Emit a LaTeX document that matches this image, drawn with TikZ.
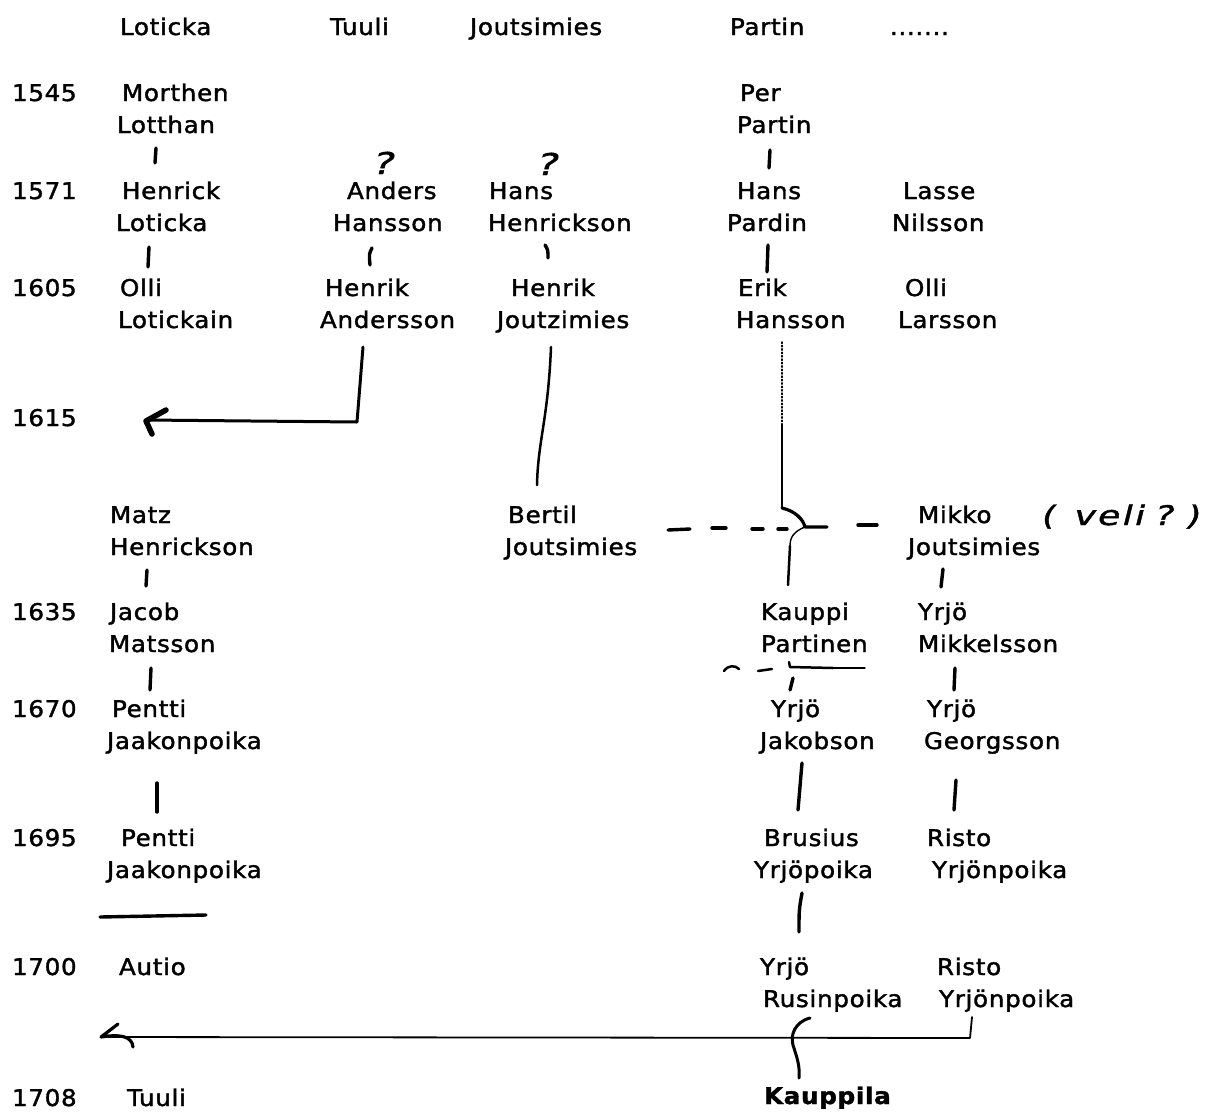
\documentclass[tikz,border=0pt]{standalone}
\usepackage{fontspec}
\setmainfont{DejaVu Sans}[FakeStretch=1.07, LetterSpace=3, FakeBold=1.6]
\newfontfamily\handfont{DejaVu Sans}[FakeSlant=0.25, FakeStretch=1.35, LetterSpace=8, FakeBold=1.6]
\newcommand{\nmfont}{\fontsize{23}{32}\selectfont}
\newcommand{\twol}[4]{\begin{tabular}[t]{@{}l@{}}\hspace*{#1pt}#2\\\hspace*{#3pt}#4\end{tabular}}
\tikzset{
  nm/.style={anchor=base west, inner sep=0pt, outer sep=0pt, font=\nmfont},
  qm/.style={anchor=base, inner sep=0pt, font=\handfont\fontsize{30}{30}\selectfont},
  tick/.style={line width=3.4pt, line cap=round, line join=round},
  hand/.style={line width=2.5pt, line cap=round, line join=round},
  faint/.style={line width=1.4pt, line cap=round, line join=round},
}
\begin{document}
\begin{tikzpicture}[x=1pt,y=-1pt]
\useasboundingbox (0,0) rectangle (1210,1111);
% header
\node[nm] (hLot) at (120,35) {Loticka};
\node[nm] (hTuu) at (330,35) {Tuuli};
\node[nm] (hJou) at (470,35) {Joutsimies};
\node[nm] (hPar) at (730,35) {Partin};
\node[nm] (hDot) at (890,35) {.......};
% years
\node[nm] (y1545) at (12,101) {1545};
\node[nm] (y1571) at (12,199) {1571};
\node[nm] (y1605) at (12,296) {1605};
\node[nm] (y1615) at (12,426) {1615};
\node[nm] (y1635) at (12,620) {1635};
\node[nm] (y1670) at (12,717) {1670};
\node[nm] (y1695) at (12,846) {1695};
\node[nm] (y1700) at (12,975) {1700};
\node[nm] (y1708) at (12,1106) {1708};
% people
\node[nm] (morthen) at (117,101) {\twol{5}{Morthen}{0}{Lotthan}};
\node[nm] (per) at (737,101) {\twol{3}{Per}{0}{Partin}};
\node[nm] (henrick) at (116,199) {\twol{6}{Henrick}{0}{Loticka}};
\node[nm] (anders) at (333,199) {\twol{14}{Anders}{0}{Hansson}};
\node[nm] (hans1) at (488,199) {\twol{1}{Hans}{0}{Henrickson}};
\node[nm] (hans2) at (727,199) {\twol{10}{Hans}{0}{Pardin}};
\node[nm] (lasse) at (892,199) {\twol{11}{Lasse}{0}{Nilsson}};
\node[nm] (olli1) at (118,296) {\twol{2}{Olli}{0}{Lotickain}};
\node[nm] (henrik1) at (320,296) {\twol{5}{Henrik}{0}{Andersson}};
\node[nm] (henrik2) at (497,296) {\twol{14}{Henrik}{0}{Joutzimies}};
\node[nm] (erik) at (736,296) {\twol{2}{Erik}{0}{Hansson}};
\node[nm] (olli2) at (898,296) {\twol{7}{Olli}{0}{Larsson}};
\node[nm] (matz) at (110,523) {\twol{0}{Matz}{0}{Henrickson}};
\node[nm] (bertil) at (505,523) {\twol{3}{Bertil}{0}{Joutsimies}};
\node[nm] (mikko) at (908,523) {\twol{10}{Mikko}{0}{Joutsimies}};
\node[nm] (jacob) at (109,620) {\twol{1}{Jacob}{0}{Matsson}};
\node[nm] (kauppi) at (761,620) {\twol{0}{Kauppi}{0}{Partinen}};
\node[nm] (yrjo1) at (918,620) {\twol{0}{Yrjö}{0}{Mikkelsson}};
\node[nm] (pentti1) at (107,717) {\twol{5}{Pentti}{0}{Jaakonpoika}};
\node[nm] (yrjo2) at (760,717) {\twol{11}{Yrjö}{0}{Jakobson}};
\node[nm] (yrjo3) at (924,717) {\twol{3}{Yrjö}{0}{Georgsson}};
\node[nm] (pentti2) at (107,846) {\twol{14}{Pentti}{0}{Jaakonpoika}};
\node[nm] (brusius) at (754,846) {\twol{10}{Brusius}{0}{Yrjöpoika}};
\node[nm] (risto1) at (927,846) {\twol{0}{Risto}{5}{Yrjönpoika}};
\node[nm] (autio) at (119,975) {Autio};
\node[nm] (yrjo4) at (760,975) {\twol{0}{Yrjö}{3}{Rusinpoika}};
\node[nm] (risto2) at (937,975) {\twol{0}{Risto}{2}{Yrjönpoika}};
\node[nm] (tuuli) at (127,1106) {Tuuli};
\node[nm] (kauppila) at (764,1104) {\bfseries Kauppila};
% handwritten notes
\node[qm] (q1) at (382,174) {?};
\node[qm] (q2) at (546,175) {?};
\node[anchor=base west, inner sep=0pt, font=\handfont\fontsize{27}{27}\selectfont] (veli) at (1040,525) {(\hspace{18pt}veli\hspace{10pt}?\hspace{12pt})};
% ticks
\draw[tick] (156,148) -- (155,163);
\draw[tick] (770,150) -- (769,168);
\draw[tick] (149,247) -- (148,267);
\draw[tick] (372,248) .. controls (369,254) .. (370,265);
\draw[tick] (545,245) .. controls (548,250) .. (548,258);
\draw[tick] (768,245) -- (767,272);
\draw[tick] (147,570) -- (146,586);
\draw[tick] (943,569) -- (941,587);
\draw[tick] (151,668) -- (150,690);
\draw[tick] (955,668) -- (954,690);
\draw[tick] (157,783) -- (157,812);
\draw[tick] (802,763) -- (798,810);
\draw[tick] (956,780) -- (954,810);
\draw[tick] (802,893) .. controls (799,910) .. (799,932);
\draw[tick] (100,917) -- (206,915);
% Andersson -> arrow
\draw[hand, line width=3pt] (363,347) -- (357,422) -- (146,420);
\draw[line width=5.5pt, line cap=round, line join=round] (166,410) -- (146,421) -- (152,434);
% Joutzimies -> Bertil
\draw[hand] (551,347) .. controls (548,420) and (538,440) .. (537,485);
% Erik Hansson line with bump
\draw[faint, dotted] (782,342) -- (782,425);
\draw[hand] (782,425) -- (782,508);
\draw[hand, line width=3.2pt] (782,508) .. controls (795,511) and (803,519) .. (805,527) -- (827,527);
\draw[faint] (805,527) .. controls (795,531) and (790,536) .. (790,546);
\draw[hand] (790,546) -- (788,585);
% dashed line
\draw[tick] (668,530) -- (690,529);
\draw[tick] (712,528) -- (726,528);
\draw[tick] (752,529) -- (763,529);
\draw[tick] (778,529) -- (787,529);
\draw[tick] (858,525) -- (877,525);
% marks under Partinen
\draw[hand] (724,671) .. controls (728,665) and (735,665) .. (739,669);
\draw[hand] (758,671) -- (772,669);
\draw[hand] (789,662) -- (790,667) -- (833,668);
\draw[faint] (833,668) -- (865,668);
\draw[tick] (793,678) -- (790,690);
% bottom arrow
\draw[faint, line width=1.8pt] (972,1017) -- (970,1038) -- (101,1037);
\draw[hand, line width=3.2pt] (118,1024) -- (101,1037) .. controls (120,1034) and (132,1036) .. (133,1047);
% Rusinpoika -> Kauppila
\draw[hand, line width=3pt] (810,1018) .. controls (795,1022) and (790,1035) .. (793,1045) .. controls (797,1058) and (800,1065) .. (799,1078);
\end{tikzpicture}
\end{document}
